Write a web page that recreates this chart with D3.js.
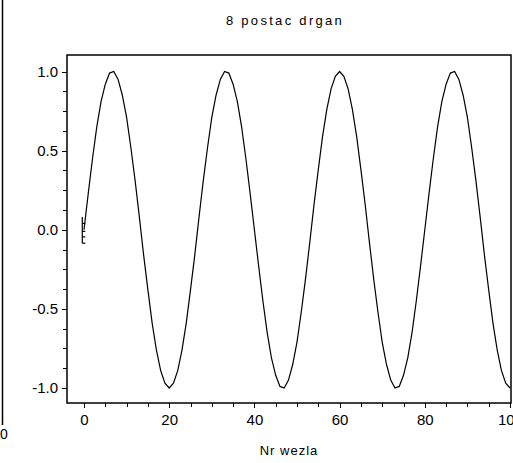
<!DOCTYPE html>
<meta charset="utf-8">
<style>
body { margin: 0; background: #fff; }
text { font-family: Arial, "Liberation Sans", sans-serif; fill: #000; }
.axis path { display: none; }
.axis line { stroke: #000; shape-rendering: crispEdges; }
.axis text { font-size: 15px; }
</style>
<body>
<script src="https://d3js.org/d3.v7.min.js"></script>
<script>

// mode shape values, node 0..100
var nodes = d3.range(0, 101);
var amp = [
  0.00, 0.23, 0.45, 0.65, 0.81, 0.92, 0.99, 1.00, 0.95, 0.85,
  0.71, 0.52, 0.31, 0.08, -0.16, -0.38, -0.59, -0.76, -0.89, -0.97,
  -1.00, -0.97, -0.89, -0.76, -0.59, -0.38, -0.16, 0.08, 0.31, 0.52,
  0.71, 0.85, 0.95, 1.00, 0.99, 0.92, 0.81, 0.65, 0.45, 0.23,
  0.00, -0.23, -0.45, -0.65, -0.81, -0.92, -0.99, -1.00, -0.95, -0.85,
  -0.71, -0.52, -0.31, -0.08, 0.16, 0.38, 0.59, 0.76, 0.89, 0.97,
  1.00, 0.97, 0.89, 0.76, 0.59, 0.38, 0.16, -0.08, -0.31, -0.52,
  -0.71, -0.85, -0.95, -1.00, -0.99, -0.92, -0.81, -0.65, -0.45, -0.23,
  0.00, 0.23, 0.45, 0.65, 0.81, 0.92, 0.99, 1.00, 0.95, 0.85,
  0.71, 0.52, 0.31, 0.08, -0.16, -0.38, -0.59, -0.76, -0.89, -0.97,
  -1.00
];
// little stepped marks at the start of the curve
var startMarks = [0.08, 0.04, -0.01, -0.045, -0.085];

var xTicks = [0, 20, 40, 60, 80, 100];
var yTicks = [-1.0, -0.5, 0.0, 0.5, 1.0];
var xMinor = d3.range(0, 101, 5);
var yMinor = d3.range(-1, 1.001, 0.125);

var width = 513, height = 463;
var box = {left: 67, top: 55, right: 511, bottom: 403};

var x = d3.scaleLinear().domain([0, 100]).range([84, 510]);
var y = d3.scaleLinear().domain([-1, 1]).range([388, 71.5]);

var fmtY = function(d) { return d3.format(".1f")(d).replace("\u2212", "-"); };

var svg = d3.select("body").append("svg")
    .attr("width", width)
    .attr("height", height);

// piece of the neighbouring panel on the left
svg.append("line")
    .attr("x1", 2.5).attr("x2", 2.5)
    .attr("y1", 0).attr("y2", 425)
    .style("stroke", "#000").style("stroke-width", 1.5);
svg.append("text")
    .attr("x", 0).attr("y", 439)
    .style("font-size", "14px")
    .text("0");

// title
svg.append("text")
    .attr("x", 285).attr("y", 25)
    .attr("text-anchor", "middle")
    .style("font-size", "13px")
    .style("letter-spacing", "2.3px")
    .text("8 postac drgan");

// minor ticks
svg.append("g").attr("class", "axis")
    .attr("transform", "translate(0," + box.bottom + ")")
    .call(d3.axisBottom(x).tickValues(xMinor).tickSize(4).tickFormat(""));
svg.append("g").attr("class", "axis")
    .attr("transform", "translate(" + box.left + ",0)")
    .call(d3.axisLeft(y).tickValues(yMinor).tickSize(4).tickFormat(""));

// major ticks
svg.append("g").attr("class", "axis")
    .attr("transform", "translate(0," + box.bottom + ")")
    .call(d3.axisBottom(x).tickValues(xTicks).tickSize(5).tickPadding(6).tickFormat(d3.format("d")));
svg.append("g").attr("class", "axis")
    .attr("transform", "translate(" + box.left + ",0)")
    .call(d3.axisLeft(y).tickValues(yTicks).tickSize(5).tickPadding(4).tickFormat(fmtY));

// frame
svg.append("rect")
    .attr("x", box.left).attr("y", box.top)
    .attr("width", box.right - box.left)
    .attr("height", box.bottom - box.top)
    .style("fill", "none")
    .style("stroke", "#000")
    .style("stroke-width", 1.5);

// curve
var line = d3.line()
    .x(function(d, i) { return x(nodes[i]); })
    .y(function(d) { return y(d); });

svg.append("path")
    .datum(amp)
    .attr("d", line)
    .style("fill", "none")
    .style("stroke", "#000")
    .style("stroke-width", 1.2);

// stepped marks at node 0
var mx = x(-0.4);
svg.append("line")
    .attr("x1", mx).attr("x2", mx)
    .attr("y1", y(startMarks[0])).attr("y2", y(startMarks[startMarks.length - 1]))
    .style("stroke", "#000").style("stroke-width", 1.2);
svg.selectAll(".mark")
    .data(startMarks.slice(1))
  .enter().append("line")
    .attr("class", "mark")
    .attr("x1", mx).attr("x2", mx + 3)
    .attr("y1", function(d) { return y(d); })
    .attr("y2", function(d) { return y(d); })
    .style("stroke", "#000").style("stroke-width", 1.2);

// x axis label
svg.append("text")
    .attr("x", 289).attr("y", 455)
    .attr("text-anchor", "middle")
    .style("font-size", "13px")
    .style("letter-spacing", "1px")
    .text("Nr wezla");

</script>
</body>
